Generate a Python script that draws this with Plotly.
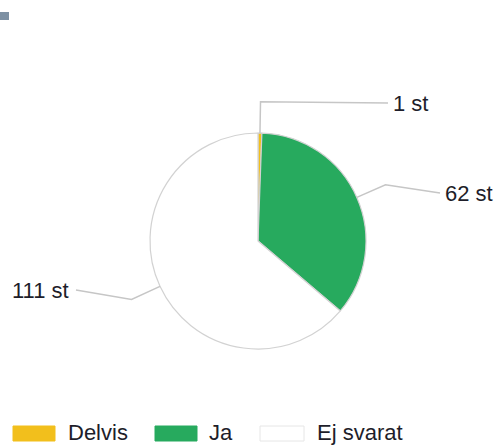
import math
import plotly.graph_objects as go

categories = ["Delvis", "Ja", "Ej svarat"]
values = [1, 62, 111]
colors = ["#F2BF1C", "#27AA5E", "#FFFFFF"]
value_labels = [f"{v} st" for v in values]

W, H = 496, 446
CX, CY, R = 258, 241, 108
FONT = "Liberation Sans, Arial, sans-serif"
TXT = "#1e1e2a"
LINE = "#c6c6c6"

def px(x):
    return x / W

def py(y):
    return 1 - y / H

fig = go.Figure(go.Pie(
    labels=categories, values=values, sort=False, direction="clockwise",
    marker=dict(colors=colors, line=dict(color="#d2d2d2", width=1.2)),
    textinfo="none", hoverinfo="label+value", showlegend=False,
    domain=dict(x=[px(CX - R), px(CX + R)], y=[py(CY + R), py(CY - R)]),
))

# leader lines + labels (computed from slice mid-angles)
label_anchor = [(388, 103, "left"), (440, 193, "left"), (76, 290, "right")]
total = sum(values)
cum = 0
shapes = []
annotations = []
for i, v in enumerate(values):
    mid = (cum + v / 2) / total * 2 * math.pi
    cum += v
    sx, sy = CX + R * math.sin(mid), CY - R * math.cos(mid)
    ex, ey = CX + 1.29 * R * math.sin(mid), CY - 1.29 * R * math.cos(mid)
    lx, ly, side = label_anchor[i]
    shapes.append(dict(type="path", xref="paper", yref="paper",
                       path=f"M {px(sx)},{py(sy)} L {px(ex)},{py(ey)} L {px(lx)},{py(ly)}",
                       line=dict(color=LINE, width=1.5)))
    annotations.append(dict(xref="paper", yref="paper",
                            x=px(lx + (3 if side == "left" else -5)), y=py(ly),
                            xanchor=side, yanchor="middle", showarrow=False,
                            text=value_labels[i], font=dict(family=FONT, size=22, color=TXT)))

# custom legend
legend_items = [(13, 55, 66), (155, 197, 207), (260, 304, 315)]
for (x0, x1, tx), name, col in zip(legend_items, categories, colors):
    shapes.append(dict(type="rect", xref="paper", yref="paper",
                       x0=px(x0), x1=px(x1), y0=py(441), y1=py(426),
                       fillcolor=col, line=dict(color="#e6e6e6" if col == "#FFFFFF" else col, width=1)))
    annotations.append(dict(xref="paper", yref="paper", x=px(tx), y=py(432),
                            xanchor="left", yanchor="middle", showarrow=False,
                            text=name, font=dict(family=FONT, size=22, color=TXT)))

# small grey marker top-left
shapes.append(dict(type="rect", xref="paper", yref="paper",
                   x0=px(0), x1=px(9), y0=py(20), y1=py(12),
                   fillcolor="#7D90A3", line=dict(width=0)))

fig.update_layout(width=W, height=H, margin=dict(l=0, r=0, t=0, b=0),
                  paper_bgcolor="white", plot_bgcolor="white",
                  shapes=shapes, annotations=annotations)
fig.write_html("out.html", config=dict(displayModeBar=False),
               post_script="document.body.style.margin='0';document.body.style.overflow='hidden';")
